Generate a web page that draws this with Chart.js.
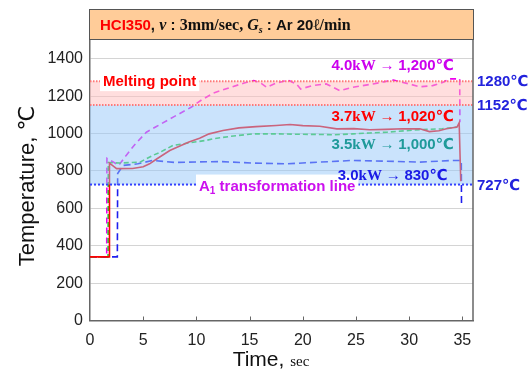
<!DOCTYPE html>
<html>
<head>
<meta charset="utf-8">
<script src="https://cdn.jsdelivr.net/npm/chart.js@4"></script>
<style>
  html, body { margin: 0; padding: 0; background: #ffffff; }
  #wrap { width: 531px; height: 373px; position: relative; }
</style>
</head>
<body>
<div id="wrap"><canvas id="chart"></canvas></div>
<script>
// ---- measured temperature histories (time in s, temperature in ℃) ----
const time37 = [0, 1.81, 1.83, 2.5, 4.0, 5.0, 5.6, 6.3, 7.5, 8.5, 9.3, 10.3, 11.2, 12.5, 14.0, 15.6, 17.5, 18.8, 20.0, 21.6, 23.2, 24.8, 26.3, 27.8, 29.4, 31.0, 31.9, 32.8, 33.5, 34.5, 34.7, 34.85];
const temp37 = [340, 340, 842, 812, 813, 822, 838, 865, 909, 935, 954, 975, 998, 1016, 1030, 1037, 1043, 1048, 1042, 1039, 1025, 1026, 1020, 1022, 1025, 1025, 1010, 1015, 1025, 1034, 1057, 745];

const time35 = [0, 1.7, 1.72, 2.8, 4.7, 5.9, 6.6, 7.8, 9.1, 10.9, 11.6, 13.1, 15.3, 17.5, 19.5, 21.6, 23.0, 24.7, 26.3, 27.9, 29.5, 31.0, 33.1, 34.5];
const temp35 = [340, 340, 845, 842, 847, 883, 900, 936, 948, 963, 972, 984, 998, 998, 996, 995, 993, 998, 1003, 1007, 1014, 1021, 1025, 1034];

const time30 = [0, 2.57, 2.6, 3.1, 4.5, 5.9, 8.0, 10.0, 12.2, 15.3, 18.5, 21.6, 24.7, 27.9, 31.0, 34.1, 34.9, 34.92];
const temp30 = [340, 340, 786, 829, 838, 856, 845, 848, 850, 842, 838, 847, 856, 852, 847, 856, 856, 610];

const time40 = [0, 1.57, 1.59, 2.7, 3.4, 4.2, 5.3, 6.2, 7.9, 9.5, 10.5, 11.6, 13.1, 14.5, 15.4, 16.1, 16.6, 17.4, 18.6, 19.4, 19.8, 20.9, 22.2, 23.5, 24.7, 26.6, 28.5, 30.0, 31.0, 32.2, 33.2, 33.8, 34.5, 34.75, 34.77];
const temp40 = [340, 340, 867, 830, 883, 940, 1007, 1036, 1090, 1140, 1180, 1216, 1245, 1270, 1283, 1268, 1247, 1268, 1285, 1265, 1238, 1256, 1265, 1229, 1247, 1265, 1286, 1265, 1250, 1256, 1274, 1292, 1292, 1292, 1060];

// ---- reference temperatures ----
const meltingTop = 1280;
const meltingBottom = 1152;
const a1Temp = 727;

// ---- axis ticks ----
const xTicks = [0, 5, 10, 15, 20, 25, 30, 35];
const yTicks = [0, 200, 400, 600, 800, 1000, 1200, 1400];

// ---- annotation texts ----
const powers = ['4.0kW', '3.7kW', '3.5kW', '3.0kW'];
const targets = ['1,200℃', '1,020℃', '1,000℃', '830℃'];
const labelTimes = [28.45, 28.45, 28.45, 28.45];
const labelTemps = [1373, 1101, 947, 782];
const labelColors = ['#CC00EE', '#FF0000', '#1F9A9A', '#1A1AE6'];

const SANS = '"Liberation Sans", Arial, "DejaVu Sans", sans-serif';
const SERIF = '"Liberation Serif", "Times New Roman", "DejaVu Serif", serif';

function pts(t, v) { return t.map((x, i) => ({ x: x, y: v[i] })); }

function richWidth(ctx, segs) {
  let w = 0;
  for (const s of segs) { ctx.font = s.f; w += ctx.measureText(s.t).width; }
  return w;
}
function drawRich(ctx, segs, x, y, align, color) {
  const w = richWidth(ctx, segs);
  let cx = align === 'center' ? x - w / 2 : (align === 'right' ? x - w : x);
  ctx.textBaseline = 'alphabetic';
  ctx.textAlign = 'left';
  for (const s of segs) {
    ctx.font = s.f;
    ctx.fillStyle = s.c || color;
    ctx.fillText(s.t, cx, y + (s.dy || 0));
    cx += ctx.measureText(s.t).width;
  }
  return w;
}

// translucent temperature bands laid over the curves, plus frame and annotations
const bandsPlugin = {
  id: 'bands',
  afterDatasetsDraw(chart) {
    const { ctx, chartArea: a, scales: { y } } = chart;
    const yTop = y.getPixelForValue(meltingTop);
    const yBot = y.getPixelForValue(meltingBottom);
    const yA1 = y.getPixelForValue(a1Temp);
    ctx.save();
    ctx.fillStyle = 'rgba(255, 190, 190, 0.5)';
    ctx.fillRect(a.left, yTop, a.right - a.left, yBot - yTop);
    ctx.fillStyle = 'rgba(150, 200, 250, 0.5)';
    ctx.fillRect(a.left, yBot, a.right - a.left, yA1 - yBot);
    // melting band edges
    ctx.strokeStyle = 'rgba(255, 110, 110, 0.9)';
    ctx.lineWidth = 2;
    ctx.setLineDash([1.5, 1.5]);
    [yTop, yBot].forEach(py => {
      ctx.beginPath(); ctx.moveTo(a.left, py); ctx.lineTo(a.right, py); ctx.stroke();
    });
    // A1 transformation line
    ctx.strokeStyle = '#3340FF';
    ctx.lineWidth = 2;
    ctx.setLineDash([2, 2]);
    ctx.beginPath(); ctx.moveTo(a.left, yA1); ctx.lineTo(a.right, yA1); ctx.stroke();
    ctx.restore();
  },
  afterDraw(chart) {
    const { ctx, chartArea: a, scales: { x, y } } = chart;
    ctx.save();
    // right frame line
    ctx.strokeStyle = '#666';
    ctx.lineWidth = 1.5;
    ctx.beginPath(); ctx.moveTo(a.right, a.top); ctx.lineTo(a.right, a.bottom); ctx.stroke();
    // inward x tick marks
    ctx.lineWidth = 1;
    xTicks.slice(1).forEach(t => {
      const px = Math.round(x.getPixelForValue(t)) + 0.5;
      ctx.beginPath(); ctx.moveTo(px, a.bottom); ctx.lineTo(px, a.bottom - 4); ctx.stroke();
    });

    // header box
    ctx.fillStyle = '#FFCC99';
    ctx.fillRect(a.left - 1, 9, a.right - a.left + 2, 31);
    ctx.strokeStyle = '#555';
    ctx.lineWidth = 1;
    ctx.strokeRect(a.left - 0.5, 9.5, a.right - a.left + 1, 30);
    drawRich(ctx, [
      { t: 'HCI350', f: 'bold 15px ' + SANS, c: '#FF0000' },
      { t: ', ', f: 'bold 15px ' + SANS },
      { t: 'v', f: 'italic bold 16px ' + SERIF },
      { t: ' : ', f: 'bold 15px ' + SANS },
      { t: '3mm/sec, ', f: 'bold 16px ' + SERIF },
      { t: 'G', f: 'italic bold 16px ' + SERIF },
      { t: 's', f: 'italic bold 10px ' + SERIF, dy: 3 },
      { t: ' : Ar 20', f: 'bold 15px ' + SANS },
      { t: 'ℓ/min', f: 'bold 16px ' + SERIF }
    ], 100, 30, 'left', '#111');

    // labels at right of the frame
    ctx.font = 'bold 15px ' + SANS;
    ctx.fillStyle = '#2222DD';
    ctx.textAlign = 'left';
    ctx.textBaseline = 'middle';
    [[meltingTop, '1280℃'], [meltingBottom, '1152℃'], [a1Temp, '727℃']].forEach(([v, s]) => {
      ctx.fillText(s, a.right + 4, y.getPixelForValue(v) + 1);
    });

    // Melting point label
    const mp = 'Melting point';
    ctx.font = 'bold 15px ' + SANS;
    const mw = ctx.measureText(mp).width;
    const mx = 103, my = y.getPixelForValue(meltingTop);
    ctx.fillStyle = '#fff';
    ctx.fillRect(mx - 3, my - 10, mw + 6, 20);
    ctx.fillStyle = '#FF0000';
    ctx.textBaseline = 'middle';
    ctx.fillText(mp, mx, my + 1);

    // A1 transformation line label
    const a1Segs = [
      { t: 'A', f: 'bold 15px ' + SANS },
      { t: '1', f: 'bold 10px ' + SANS, dy: 3 },
      { t: ' transformation line', f: 'bold 15px ' + SANS }
    ];
    const aw = richWidth(ctx, a1Segs);
    const ax = 199, ay = y.getPixelForValue(a1Temp);
    ctx.fillStyle = '#fff';
    ctx.fillRect(ax - 3, ay - 10, aw + 6, 19);
    drawRich(ctx, a1Segs, ax, ay + 6, 'left', '#CC11EE');

    // power → temperature annotations
    powers.forEach((p, i) => {
      const segs = [
        { t: p.replace('kW', ''), f: 'bold 15px ' + SANS },
        { t: 'kW', f: 'bold 15px ' + SERIF },
        { t: ' → ', f: 'bold 15px ' + SERIF },
        { t: targets[i], f: 'bold 15px ' + SANS }
      ];
      drawRich(ctx, segs, x.getPixelForValue(labelTimes[i]), y.getPixelForValue(labelTemps[i]) + 6, 'center', labelColors[i]);
    });

    // axis titles
    ctx.save();
    ctx.translate(28, 186);
    ctx.rotate(-Math.PI / 2);
    ctx.font = '22px ' + SANS;
    ctx.fillStyle = '#111';
    ctx.textAlign = 'center';
    ctx.textBaseline = 'middle';
    ctx.fillText('Temperature, ℃', 0, 0);
    ctx.restore();
    drawRich(ctx, [
      { t: 'Time, ', f: '21px ' + SANS },
      { t: 'sec', f: '15px ' + SERIF }
    ], 271, 366, 'center', '#111');
    ctx.restore();
  }
};

new Chart(document.getElementById('chart'), {
  type: 'line',
  data: {
    datasets: [
      { label: '3.7kW', data: pts(time37, temp37), borderColor: '#FF0000', borderWidth: 1.6 },
      { label: '3.5kW', data: pts(time35, temp35), borderColor: '#22CC33', borderWidth: 1.6, borderDash: [5, 3] },
      { label: '3.0kW', data: pts(time30, temp30), borderColor: '#1F1FEE', borderWidth: 1.6, borderDash: [7, 4] },
      { label: '4.0kW', data: pts(time40, temp40), borderColor: '#EE00EE', borderWidth: 1.6, borderDash: [6, 4] }
    ]
  },
  options: {
    responsive: true,
    maintainAspectRatio: false,
    animation: false,
    events: [],
    layout: { padding: { top: 40, right: 58, left: 0, bottom: 0 } },
    elements: { point: { radius: 0 }, line: { tension: 0, fill: false } },
    plugins: { legend: { display: false }, tooltip: { enabled: false } },
    scales: {
      x: {
        type: 'linear', min: 0, max: 36,
        afterFit(s) { s.height = 52.5; },
        afterBuildTicks(s) { s.ticks = xTicks.map(v => ({ value: v })); },
        grid: { display: false },
        border: { display: true, color: '#666', width: 1.5 },
        ticks: { font: { family: SANS, size: 16 }, color: '#222', padding: 2, maxRotation: 0, callback: v => String(v) }
      },
      y: {
        type: 'linear', min: 0, max: 1500,
        afterFit(s) { s.width = 90; },
        afterBuildTicks(s) { s.ticks = yTicks.map(v => ({ value: v })); },
        grid: { color: '#D4D4D4', lineWidth: 1, drawTicks: false },
        border: { display: true, color: '#666', width: 1.5 },
        ticks: { font: { family: SANS, size: 16 }, color: '#222', padding: 7, callback: v => String(v) }
      }
    }
  },
  plugins: [bandsPlugin]
});
</script>
</body>
</html>
